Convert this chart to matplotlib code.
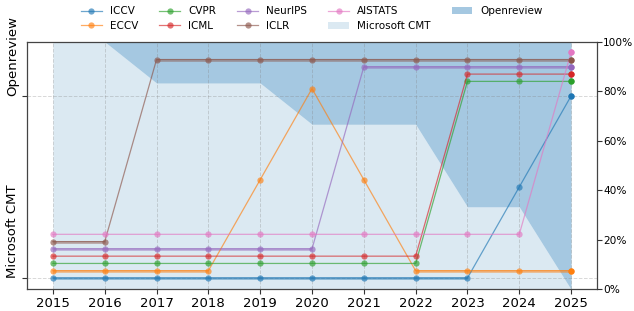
import matplotlib
matplotlib.use("Agg")
import matplotlib.pyplot as plt
import numpy as np

years = [2015, 2016, 2017, 2018, 2019, 2020, 2021, 2022, 2023, 2024, 2025]
conferences = ["ICCV", "ECCV", "CVPR", "ICML", "NeurIPS", "ICLR", "AISTATS"]
# 0 = Microsoft CMT, 1 = Openreview, 0.5 = no edition (between)
iccv    = [0, 0, 0, 0, 0, 0, 0, 0, 0, 0.5, 1]
eccv    = [0, 0, 0, 0, 0.5, 1, 0.5, 0, 0, 0, 0]
cvpr    = [0, 0, 0, 0, 0, 0, 0, 0, 1, 1, 1]
icml    = [0, 0, 0, 0, 0, 0, 0, 0, 1, 1, 1]
neurips = [0, 0, 0, 0, 0, 0, 1, 1, 1, 1, 1]
iclr    = [0, 0, 1, 1, 1, 1, 1, 1, 1, 1, 1]
aistats = [0, 0, 0, 0, 0, 0, 0, 0, 0, 0, 1]
series = [iccv, eccv, cvpr, icml, neurips, iclr, aistats]
# share of conferences on Microsoft CMT each year
cmt_share = [1.0, 1.0, 5/6, 5/6, 5/6, 4/6, 4/6, 4/6, 2/6, 2/6, 0.0]

colors = ["tab:blue", "tab:orange", "tab:green", "tab:red",
          "tab:purple", "tab:brown", "tab:pink"]
thick = {"ICCV", "ECCV", "NeurIPS", "ICLR"}
offset_step = 0.04

fig = plt.figure(figsize=(6.34, 3.11), dpi=100)
ax = fig.add_axes([27/634, 1-289.3/311, (597-27)/634, (289.3-41.7)/311])

xs = np.array(years)
cmt = np.array(cmt_share)
trans = ax.get_xaxis_transform()
h_or = ax.fill_between(xs, cmt, 1.0, transform=trans, color="tab:blue",
                       alpha=0.4, lw=0, label="Openreview", zorder=0.5)
h_cmt = ax.fill_between(xs, 0.0, cmt, transform=trans, color="tab:blue",
                        alpha=0.16, lw=0, label="Microsoft CMT", zorder=0.5)

line_handles = []
for i, (name, vals, c) in enumerate(zip(conferences, series, colors)):
    y = np.array(vals, dtype=float) + i * offset_step
    h, = ax.plot(xs, y, color=c, lw=0.9, alpha=0.65, marker="o", ms=4.5,
                 mew=0, label=name, zorder=3)
    line_handles.append(h)
    if name in thick:
        for k in range(len(xs) - 1):
            if vals[k] == vals[k + 1]:
                ax.plot(xs[k:k+2], y[k:k+2], color=c, lw=2.0, alpha=0.45,
                        solid_capstyle="butt", zorder=2.9)
    ax.plot(xs[-1:], y[-1:], color=c, marker="o", ms=4.5, mew=0, lw=0, zorder=4)

ax.set_xlim(2014.5, 2025.5)
ax.set_ylim(-0.062, 1.298)
ax.set_xticks(years)
ax.set_xticklabels([str(y) for y in years], fontsize=9.5)
ax.set_yticks([0, 1])
ax.set_yticklabels(["Microsoft CMT", "Openreview"], rotation=90, va="bottom",
                   fontsize=9.5)
ax.grid(True, ls="--", color="gray", alpha=0.3, lw=0.7)
ax.tick_params(axis="both", length=3.5, width=0.8, color="#333333", pad=2)
for s in ax.spines.values():
    s.set_color("#444444")
    s.set_linewidth(0.9)

ax2 = ax.twinx()
ax2.set_ylim(0, 1)
pct = [0, 0.2, 0.4, 0.6, 0.8, 1.0]
ax2.set_yticks(pct)
ax2.set_yticklabels([f"{int(round(p*100))}%" for p in pct], fontsize=7.6)
ax2.tick_params(axis="y", length=3.5, width=0.8, color="#333333", pad=1.0)
for s in ax2.spines.values():
    s.set_visible(False)

handles = line_handles + [h_cmt, h_or]
labels = conferences + ["Microsoft CMT", "Openreview"]
fig.legend(handles, labels, ncol=5, loc="center",
           bbox_to_anchor=((27+597)/2/634, 1 - 18.5/311), frameon=False,
           fontsize=7.5, columnspacing=2.0, handlelength=2.0,
           handletextpad=0.8, labelspacing=0.45, borderaxespad=0)

fig.savefig("out.png", dpi=100)
